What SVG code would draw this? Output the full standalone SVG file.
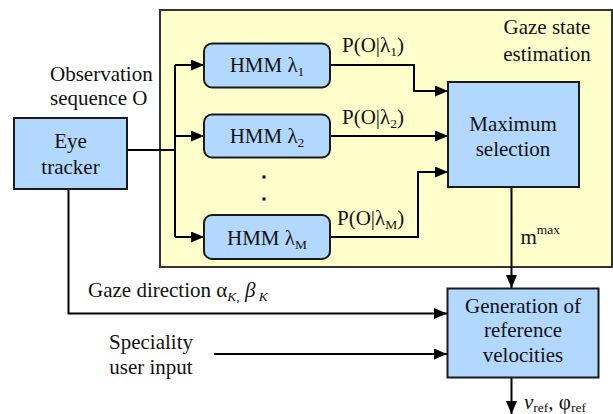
<svg xmlns="http://www.w3.org/2000/svg" width="613" height="414" viewBox="0 0 613 414" font-family="'Liberation Serif', 'DejaVu Serif', serif">
  <defs>
    <marker id="arrow" markerWidth="13" markerHeight="11" refX="13" refY="5.5" orient="auto" markerUnits="userSpaceOnUse">
      <path d="M0,0 L13,5.5 L0,11 z" fill="#000"/>
    </marker>
    <style>
      text { font-size: 21px; fill: #111; }
      .mid { text-anchor: middle; }
      .sub { font-size: 13.5px; }
      .it { font-style: italic; }
      .box { fill: #b3d8ff; stroke: #1a1a1a; stroke-width: 2; }
      .panel { fill: #ffffcc; stroke: #333; stroke-width: 2; }
      .wire { fill: none; stroke: #000; stroke-width: 2; }
    </style>
  </defs>

  <rect width="613" height="414" fill="#fff"/>

  <!-- Gaze state estimation panel -->
  <g id="panel">
    <rect class="panel" x="160" y="10" width="452" height="257"/>
    <text class="mid" x="547" y="34">Gaze state</text>
    <text class="mid" x="547" y="61">estimation</text>
  </g>

  <!-- Connectors -->
  <g id="connectors">
    <path class="wire" d="M127,150 H175"/>
    <path class="wire" d="M175,65 V237"/>
    <path class="wire" d="M175,65 H204" marker-end="url(#arrow)"/>
    <path class="wire" d="M175,136 H204" marker-end="url(#arrow)"/>
    <path class="wire" d="M175,237 H204" marker-end="url(#arrow)"/>
    <path class="wire" d="M330,65 H414 V91 H448" marker-end="url(#arrow)"/>
    <path class="wire" d="M330,136 H448" marker-end="url(#arrow)"/>
    <path class="wire" d="M330,237 H418 V172 H448" marker-end="url(#arrow)"/>
    <path class="wire" d="M511.5,187 V288" marker-end="url(#arrow)"/>
    <path class="wire" d="M68.5,189 V313.5 H447" marker-end="url(#arrow)"/>
    <path class="wire" d="M214,354 H447" marker-end="url(#arrow)"/>
    <path class="wire" d="M511.5,377 V414" marker-end="url(#arrow)"/>
  </g>

  <!-- Connector labels -->
  <g id="labels">
    <text x="50" y="81">Observation</text>
    <text x="50" y="105">sequence O</text>
    <text x="342" y="51.5">P(O|λ<tspan class="sub" dy="4">1</tspan><tspan dy="-4">)</tspan></text>
    <text x="342" y="123.5">P(O|λ<tspan class="sub" dy="4">2</tspan><tspan dy="-4">)</tspan></text>
    <text x="337" y="225">P(O|λ<tspan class="sub" dy="4">M</tspan><tspan dy="-4">)</tspan></text>
    <text x="520.5" y="243.5">m<tspan class="sub" dy="-10">max</tspan></text>
    <text x="88" y="297">Gaze direction α<tspan class="sub it" dy="4">K,</tspan><tspan class="it" dy="-4"> β</tspan><tspan class="sub it" dy="4"> K</tspan></text>
    <text class="mid" x="151" y="349">Speciality</text>
    <text class="mid" x="151" y="373.5">user input</text>
    <text x="524" y="409"><tspan class="it">v</tspan><tspan class="sub" dy="2.5">ref</tspan><tspan dy="-2.5">, φ</tspan><tspan class="sub" dy="2.5">ref</tspan></text>
  </g>

  <!-- Nodes -->
  <g id="eye-tracker">
    <rect class="box" x="14" y="118" width="113" height="71"/>
    <text class="mid" x="70.5" y="148">Eye</text>
    <text class="mid" x="70.5" y="174">tracker</text>
  </g>

  <g id="hmm-1">
    <rect class="box" x="204" y="43.5" width="126" height="44" rx="8"/>
    <text class="mid" x="267" y="72">HMM λ<tspan class="sub" dy="4">1</tspan></text>
  </g>

  <g id="hmm-2">
    <rect class="box" x="204" y="114.5" width="126" height="43" rx="8"/>
    <text class="mid" x="267" y="143">HMM λ<tspan class="sub" dy="4">2</tspan></text>
  </g>

  <g id="hmm-dots">
    <rect x="262.5" y="175.5" width="3" height="3" fill="#111"/>
    <rect x="262.5" y="197.5" width="3" height="3" fill="#111"/>
  </g>

  <g id="hmm-m">
    <rect class="box" x="204" y="215" width="126" height="44" rx="8"/>
    <text class="mid" x="267" y="244.5">HMM λ<tspan class="sub" dy="4">M</tspan></text>
  </g>

  <g id="max-selection">
    <rect class="box" x="448" y="82" width="131" height="105"/>
    <text class="mid" x="513" y="131">Maximum</text>
    <text class="mid" x="513" y="156">selection</text>
  </g>

  <g id="generation">
    <rect class="box" x="447.5" y="288.5" width="151" height="89"/>
    <text class="mid" x="523" y="313">Generation of</text>
    <text class="mid" x="523" y="337">reference</text>
    <text class="mid" x="523" y="362">velocities</text>
  </g>
</svg>
